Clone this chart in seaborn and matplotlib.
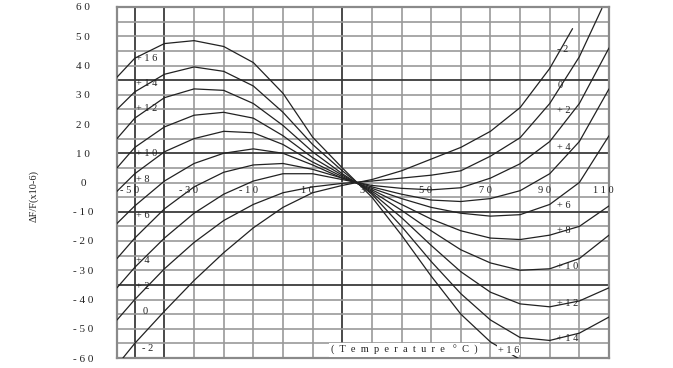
import numpy as np
import pandas as pd
import matplotlib
matplotlib.use("Agg")
import matplotlib.pyplot as plt
import seaborn as sns

# ---- data ----
t_m2 = [-54, -50, -40, -30, -20, -10, 0, 10, 20, 30, 40, 50, 60, 70, 80, 90, 97.7]
v_m2 = [-60, -55, -44, -33.5, -24, -15.5, -8.5, -3.5, -1, 1, 4, 8, 12, 17.5, 25.6, 39, 52.6]
t_0 = [-56, -50, -40, -30, -20, -10, 0, 10, 20, 30, 40, 50, 60, 70, 80, 90, 100, 107.6]
v_0 = [-47, -40, -29.5, -20.5, -13, -7.5, -3.5, -1.5, -0.3, 0.5, 1.5, 2.5, 4, 9, 15.3, 27, 43, 59.5]
t_p2 = [-56, -50, -40, -30, -20, -10, 0, 10, 20, 30, 40, 50, 60, 70, 80, 90, 100, 110]
v_p2 = [-36, -29, -19, -10.5, -4, 0.5, 3, 3, 1, -1, -2, -2.5, -1.8, 1.5, 6.4, 14, 27, 46]
t_p4 = [-56, -50, -40, -30, -20, -10, 0, 10, 20, 30, 40, 50, 60, 70, 80, 90, 100, 110]
v_p4 = [-26, -19, -9, -1.5, 3.5, 6, 6.5, 4.5, 1.5, -1.5, -4, -6, -6.5, -5.5, -2.8, 3, 14, 32]
t_p6 = [-56, -50, -40, -30, -20, -10, 0, 10, 20, 30, 40, 50, 60, 70, 80, 90, 100, 110]
v_p6 = [-14, -8, 0.5, 6.5, 10, 11.5, 10, 6, 1.5, -2, -5.5, -8.5, -10.5, -11.5, -11, -7.5, 0, 16]
t_p8 = [-56, -50, -40, -30, -20, -10, 0, 10, 20, 30, 40, 50, 60, 70, 80, 90, 100, 110]
v_p8 = [-3, 3, 10.5, 15, 17.5, 17, 13, 7, 2, -2.5, -7.5, -12.5, -16.5, -19, -19.5, -18, -15, -8]
t_p10 = [-56, -50, -40, -30, -20, -10, 0, 10, 20, 30, 40, 50, 60, 70, 80, 90, 100, 110]
v_p10 = [5, 12, 19, 23, 24, 22, 16, 8.5, 2.5, -3, -9.5, -16.5, -23, -27.5, -30, -29.5, -26, -18]
t_p12 = [-56, -50, -40, -30, -20, -10, 0, 10, 20, 30, 40, 50, 60, 70, 80, 90, 100, 110]
v_p12 = [15, 22, 29, 32, 31.5, 27, 19.5, 10.5, 3, -3.5, -12, -21.5, -30.5, -37.5, -41.5, -42.5, -40.5, -36]
t_p14 = [-56, -50, -40, -30, -20, -10, 0, 10, 20, 30, 40, 50, 60, 70, 80, 90, 100, 110]
v_p14 = [25, 31, 37, 39.5, 38, 33, 24, 13, 4, -4, -15, -27, -38, -47, -53, -54, -51.5, -46]
t_p16 = [-56, -50, -40, -30, -20, -10, 0, 10, 20, 30, 40, 50, 60, 70, 80]
v_p16 = [36, 42.5, 47.5, 48.5, 46.5, 41, 30.5, 15.5, 5, -5, -18, -32, -45, -54.5, -60.5]

curve_names = ["-2", "0", "+2", "+4", "+6", "+8", "+10", "+12", "+14", "+16"]
curve_t = [t_m2, t_0, t_p2, t_p4, t_p6, t_p8, t_p10, t_p12, t_p14, t_p16]
curve_v = [v_m2, v_0, v_p2, v_p4, v_p6, v_p8, v_p10, v_p12, v_p14, v_p16]

y_ticks = [60, 50, 40, 30, 20, 10, 0, -10, -20, -30, -40, -50, -60]
y_tick_labels = ["6 0", "5 0", "4 0", "3 0", "2 0", "1 0", "0", "- 1 0", "- 2 0",
                 "- 3 0", "- 4 0", "- 5 0", "- 6 0"]
x_ticks = [-50, -30, -10, 10, 30, 50, 70, 90, 110]
x_tick_labels = ["- 5 0", "- 3 0", "- 1 0", "1 0", "3 0", "5 0", "7 0", "9 0", "1 1 0"]

left_labels = ["+ 1 6", "+ 1 4", "+ 1 2", "+ 1 0", "+ 8", "+ 6", "+ 4", "+ 2", "0", "- 2"]
left_label_y = [42.4, 33.8, 25.2, 9.8, 0.9, -11.4, -26.8, -35.4, -44.0, -56.6]
right_labels = ["- 2", "0", "+ 2", "+ 4", "+ 6", "+ 8", "+ 1 0", "+ 1 2", "+ 1 4"]
right_label_y = [45.4, 33.0, 24.5, 11.9, -7.8, -16.3, -28.6, -41.2, -53.5]

# ---- build table ----
rows = []
for name, ts, vs in zip(curve_names, curve_t, curve_v):
    for t, v in zip(ts, vs):
        rows.append({"curve": name, "T": t, "dF": v})
df = pd.DataFrame(rows)

sns.set_theme(style="white")
plt.rcParams["font.family"] = ["Liberation Serif", "DejaVu Serif"]

W, H = 673, 368
fig = plt.figure(figsize=(W / 100, H / 100), dpi=100)
ax = fig.add_axes([117 / W, 1 - 358 / H, (609 - 117) / W, (358 - 7) / H])

XMIN, XMAX = -56, 110
YMIN, YMAX = -60, 60
ax.set_xlim(XMIN, XMAX)
ax.set_ylim(YMIN, YMAX)

# grid
thick_x = [-50, -40, 20]
for gx in np.arange(-50, 111, 10):
    if gx in thick_x:
        ax.axvline(gx, color="#3a3a3a", lw=1.3, zorder=1)
    else:
        ax.axvline(gx, color="#9a9a9a", lw=1.2, zorder=1)
thick_y = [35, 10, -10, -35]
for gy in np.arange(-55, 60, 5):
    if gy in thick_y:
        ax.axhline(gy, color="#3a3a3a", lw=1.3, zorder=1)
    else:
        ax.axhline(gy, color="#9a9a9a", lw=1.2, zorder=1)

sns.lineplot(data=df, x="T", y="dF", hue="curve", hue_order=curve_names,
             palette=["#222222"] * len(curve_names), legend=False, sort=False,
             estimator=None, lw=0.9, ax=ax, zorder=3)

for sp in ax.spines.values():
    sp.set_color("#8a8a8a")
    sp.set_linewidth(1.6)

ax.set_xlabel("")
ax.set_ylabel("")
ax.set_xticks([])
ax.set_yticks(y_ticks, y_tick_labels)
ax.tick_params(axis="y", length=0, pad=24.5, labelsize=8, colors="#222222")
for lab in ax.get_yticklabels():
    lab.set_horizontalalignment("center")

# x labels inside the plot, just below the zero line
for xt, xl in zip(x_ticks, x_tick_labels):
    ax.text(xt - 1.8, -2.8, xl, ha="center", va="center", fontsize=7.5, color="#222222",
            zorder=4)

for lab, yv in zip(left_labels, left_label_y):
    xs = -49.5 if lab not in ("0", "- 2") else -47.5
    ax.text(xs, yv, lab, ha="left", va="center", fontsize=7.5, color="#222222", zorder=4)
for lab, yv in zip(right_labels, right_label_y):
    ax.text(92.5, yv, lab, ha="left", va="center", fontsize=7.5, color="#222222", zorder=4)

ax.text(41, -57.3, "(  T  e  m  p  e  r  a  t  u  r  e   °  C  )", ha="center", va="center",
        fontsize=7.5, color="#222222", zorder=4,
        bbox=dict(facecolor="white", edgecolor="none", pad=1.5))
ax.text(72.5, -57.3, "+ 1 6", ha="left", va="center", fontsize=7.5, color="#222222",
        zorder=4, bbox=dict(facecolor="white", edgecolor="none", pad=0.5))

fig.text(34 / W, 1 - 196 / H, "ΔF/F(x10-6)", rotation=90, ha="center", va="center",
         fontsize=7.5, color="#222222")

fig.savefig("out.png", dpi=100, facecolor="white")
